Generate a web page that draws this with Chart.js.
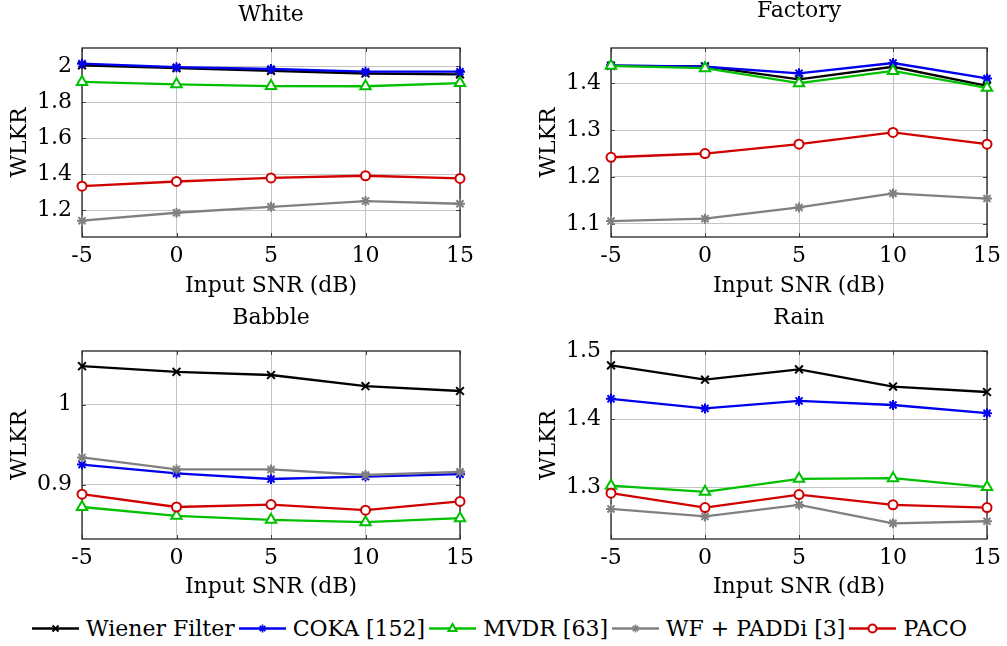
<!DOCTYPE html>
<html>
<head>
<meta charset="utf-8">
<script src="https://cdn.jsdelivr.net/npm/chart.js@4/dist/chart.umd.min.js"></script>
<style>
  body { margin: 0; width: 1007px; height: 646px; background: #fff; position: relative; overflow: hidden; font-family: "DejaVu Serif", "Liberation Serif", serif; }
  canvas { position: absolute; }
  #legend { position: absolute; left: 0; top: 612px; width: 1003px; height: 32px; display: flex; justify-content: center; align-items: center; font-size: 22px; color: #000; white-space: nowrap; }
  #legend .item { display: flex; align-items: center; margin-right: 4px; }
  #legend svg { margin-right: 7px; }
</style>
</head>
<body>
<canvas id="whiteChart" width="500" height="300" style="left:0;top:0"></canvas>
<canvas id="factoryChart" width="507" height="300" style="left:500px;top:0"></canvas>
<canvas id="babbleChart" width="500" height="300" style="left:0;top:300px"></canvas>
<canvas id="rainChart" width="507" height="300" style="left:500px;top:300px"></canvas>
<div id="legend"></div>
<script>
const snr = [-5, 0, 5, 10, 15];
const methods = ["Wiener Filter", "COKA [152]", "MVDR [63]", "WF + PADDi [3]", "PACO"];
const colors = ["#000000", "#0000ee", "#00c000", "#808080", "#d00000"];
const markers = ["crossRot", "star", "triangle", "star", "circle"];

const whiteWiener = [2.005, 1.99, 1.975, 1.96, 1.955];
const whiteCoka = [2.015, 1.995, 1.985, 1.97, 1.97];
const whiteMvdr = [1.913, 1.90, 1.89, 1.889, 1.907];
const whitePaddi = [1.141, 1.185, 1.218, 1.25, 1.235];
const whitePaco = [1.333, 1.359, 1.379, 1.391, 1.376];

const factoryWiener = [1.437, 1.436, 1.408, 1.435, 1.394];
const factoryCoka = [1.438, 1.435, 1.421, 1.443, 1.41];
const factoryMvdr = [1.437, 1.432, 1.40, 1.426, 1.39];
const factoryPaddi = [1.106, 1.111, 1.135, 1.165, 1.154];
const factoryPaco = [1.242, 1.25, 1.27, 1.295, 1.27];

const babbleWiener = [1.048, 1.041, 1.037, 1.023, 1.017];
const babbleCoka = [0.925, 0.914, 0.907, 0.910, 0.913];
const babbleMvdr = [0.872, 0.861, 0.856, 0.853, 0.858];
const babblePaddi = [0.934, 0.919, 0.919, 0.912, 0.916];
const babblePaco = [0.888, 0.872, 0.875, 0.868, 0.879];

const rainWiener = [1.479, 1.458, 1.473, 1.448, 1.44];
const rainCoka = [1.430, 1.416, 1.427, 1.421, 1.409];
const rainMvdr = [1.303, 1.294, 1.313, 1.314, 1.301];
const rainPaddi = [1.269, 1.258, 1.275, 1.248, 1.251];
const rainPaco = [1.292, 1.271, 1.290, 1.275, 1.271];

const whiteTicks = [1.2, 1.4, 1.6, 1.8, 2];
const factoryTicks = [1.1, 1.2, 1.3, 1.4];
const babbleTicks = [0.9, 1];
const rainTicks = [1.3, 1.4, 1.5];

const pointRadius = { crossRot: 5.5, star: 5, triangle: 6, circle: 4.5 };
const fontSize = 22;

Chart.defaults.font.family = '"DejaVu Serif", "Liberation Serif", serif';
Chart.defaults.font.size = fontSize;
Chart.defaults.color = "#000";

// box around the plot area plus the small inward tick marks
const framePlugin = {
  id: "frame",
  beforeDatasetsDraw(chart) {
    const { ctx, chartArea: a, scales } = chart;
    ctx.save();
    ctx.strokeStyle = "#444";
    ctx.lineWidth = 1;
    ctx.beginPath();
    scales.y.ticks.forEach(t => {
      const y = Math.round(scales.y.getPixelForValue(t.value)) + 0.5;
      ctx.moveTo(a.left, y); ctx.lineTo(a.left + 4, y);
      ctx.moveTo(a.right, y); ctx.lineTo(a.right - 4, y);
    });
    scales.x.ticks.forEach(t => {
      const x = Math.round(scales.x.getPixelForValue(t.value)) + 0.5;
      ctx.moveTo(x, a.bottom); ctx.lineTo(x, a.bottom - 4);
      ctx.moveTo(x, a.top); ctx.lineTo(x, a.top + 4);
    });
    ctx.stroke();
    ctx.strokeStyle = "#222";
    ctx.lineWidth = 1.3;
    ctx.strokeRect(a.left, a.top, a.right - a.left, a.bottom - a.top);
    ctx.restore();
  }
};

function createPanel(canvasId, title, series, ticks, min, max, box) {
  new Chart(document.getElementById(canvasId), {
    type: "line",
    data: {
      datasets: series.map((values, i) => ({
        label: methods[i],
        data: values.map((v, k) => ({ x: snr[k], y: v })),
        borderColor: colors[i],
        backgroundColor: colors[i],
        borderWidth: 2.3,
        pointStyle: markers[i],
        pointRadius: pointRadius[markers[i]],
        pointBorderWidth: 2,
        pointBorderColor: colors[i],
        pointBackgroundColor: markers[i] === "circle" || markers[i] === "triangle" ? "#fff" : colors[i],
        tension: 0,
        clip: false,
        order: series.length - i
      }))
    },
    options: {
      responsive: false,
      animation: false,
      layout: { padding: { left: 0, right: box.right, top: 0, bottom: 0 } },
      plugins: {
        legend: { display: false },
        tooltip: { enabled: false },
        title: {
          display: true,
          text: title,
          fullSize: false,
          color: "#000",
          font: { size: fontSize, weight: "normal", lineHeight: 1 },
          padding: { top: box.titleTop, bottom: box.top - fontSize - box.titleTop }
        }
      },
      scales: {
        x: {
          type: "linear",
          min: -5,
          max: 15,
          afterBuildTicks: axis => { axis.ticks = snr.map(v => ({ value: v })); },
          afterFit: axis => { axis.height = box.xHeight; },
          grid: { color: "#c4c4c4", drawTicks: false },
          border: { display: false },
          ticks: { padding: 6, maxRotation: 0, callback: v => String(v) },
          title: { display: true, text: "Input SNR (dB)", font: { size: fontSize, lineHeight: 1.2 }, padding: { top: 0, bottom: box.xTitleBottom } }
        },
        y: {
          min,
          max,
          afterBuildTicks: axis => { axis.ticks = ticks.map(v => ({ value: v })); },
          afterFit: axis => { axis.width = box.yWidth; },
          grid: { color: "#c4c4c4", drawTicks: false },
          border: { display: false },
          ticks: { padding: 10, callback: v => String(v) },
          title: { display: true, text: "WLKR", font: { size: fontSize, lineHeight: 1.2 }, padding: { top: box.yTitleTop, bottom: 0 } }
        }
      }
    },
    plugins: [framePlugin]
  });
}

createPanel("whiteChart", "White", [whiteWiener, whiteCoka, whiteMvdr, whitePaddi, whitePaco], whiteTicks, 1.05, 2.102,
  { right: 40, top: 48, titleTop: 4.5, xHeight: 63, xTitleBottom: 0.5, yWidth: 82, yTitleTop: 7 });
createPanel("factoryChart", "Factory", [factoryWiener, factoryCoka, factoryMvdr, factoryPaddi, factoryPaco], factoryTicks, 1.072, 1.475,
  { right: 18, top: 48, titleTop: 0.5, xHeight: 63, xTitleBottom: 0.5, yWidth: 111, yTitleTop: 36 });
createPanel("babbleChart", "Babble", [babbleWiener, babbleCoka, babbleMvdr, babblePaddi, babblePaco], babbleTicks, 0.832, 1.067,
  { right: 40, top: 51, titleTop: 7, xHeight: 61, xTitleBottom: 0, yWidth: 82, yTitleTop: 7 });
createPanel("rainChart", "Rain", [rainWiener, rainCoka, rainMvdr, rainPaddi, rainPaco], rainTicks, 1.225, 1.5,
  { right: 18, top: 51, titleTop: 7, xHeight: 61, xTitleBottom: 0, yWidth: 111, yTitleTop: 36 });

// shared legend under the four panels
function legendIcon(i) {
  const c = colors[i];
  let mark = "";
  if (markers[i] === "crossRot") {
    mark = `<path d="M20.5 7.5 L26.5 13.5 M26.5 7.5 L20.5 13.5" stroke="${c}" stroke-width="2"/>`;
  } else if (markers[i] === "star") {
    mark = `<path d="M23.5 6.5 V14.5 M19.5 10.5 H27.5 M20.7 7.7 L26.3 13.3 M26.3 7.7 L20.7 13.3" stroke="${c}" stroke-width="1.6"/>`;
  } else if (markers[i] === "triangle") {
    mark = `<polygon points="23.5,6 27.5,13 19.5,13" fill="#fff" stroke="${c}" stroke-width="2"/>`;
  } else {
    mark = `<circle cx="23.5" cy="10.5" r="4" fill="#fff" stroke="${c}" stroke-width="2"/>`;
  }
  return `<svg width="47" height="21"><line x1="0" y1="10.5" x2="47" y2="10.5" stroke="${c}" stroke-width="2.3"/>${mark}</svg>`;
}

document.getElementById("legend").innerHTML = methods
  .map((m, i) => `<span class="item">${legendIcon(i)}<span>${m}</span></span>`)
  .join("");
</script>
</body>
</html>
